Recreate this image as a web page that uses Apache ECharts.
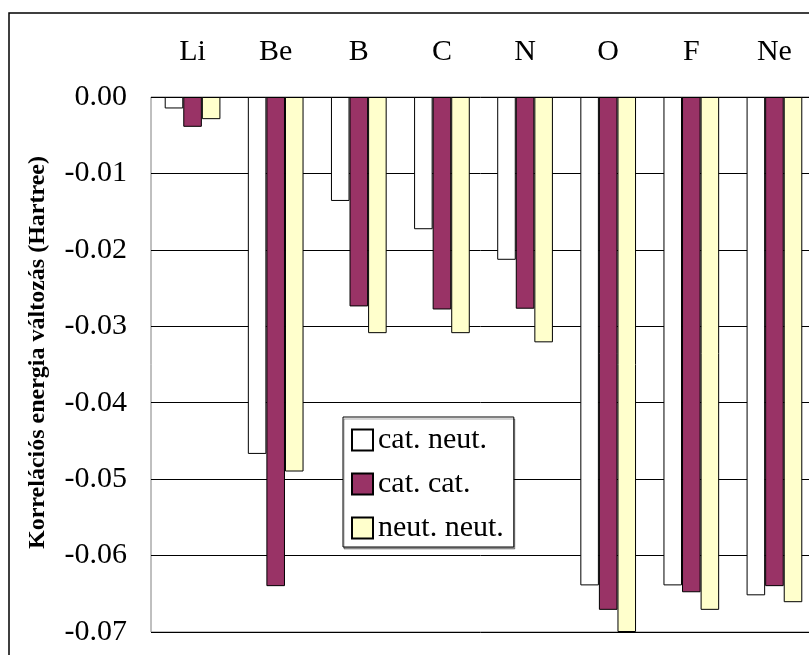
<!DOCTYPE html>
<html>
<head>
<meta charset="utf-8">
<script src="https://cdn.jsdelivr.net/npm/echarts@6/dist/echarts.min.js"></script>
<style>
  html, body { margin: 0; padding: 0; background: #fff; }
  #chart { width: 809px; height: 655px; }
</style>
</head>
<body>
<div id="chart"></div>
<script>
const categories = ['Li', 'Be', 'B', 'C', 'N', 'O', 'F', 'Ne'];
const seriesNames = ['cat. neut.', 'cat. cat.', 'neut. neut.'];
const catNeut  = [-0.0015, -0.0467, -0.0136, -0.0173, -0.0213, -0.0639, -0.0639, -0.0652];
const catCat   = [-0.0039, -0.0640, -0.0274, -0.0278, -0.0277, -0.0671, -0.0648, -0.0640];
const neutNeut = [-0.0029, -0.0490, -0.0309, -0.0309, -0.0321, -0.0700, -0.0671, -0.0661];
const yMin = -0.07, yMax = 0, yStep = 0.01;
const yTitle = 'Korrelációs energia változás (Hartree)';

const FONT = '"Liberation Serif", "Times New Roman", serif';
const colors = ['#FFFFFF', '#993366', '#FFFFCC'];
const values = [catNeut, catCat, neutNeut];

const chart = echarts.init(document.getElementById('chart'), null, { renderer: 'canvas' });
chart.setOption({
  animation: false,
  backgroundColor: '#fff',
  graphic: [{
    type: 'rect',
    shape: { x: 9, y: 13, width: 900, height: 760 },
    style: { fill: 'none', stroke: '#000', lineWidth: 1.5 },
    z: -10
  }],
  grid: {
    left: 151, top: 97, width: 665, height: 535,
    show: true, borderColor: '#808080', borderWidth: 1,
    containLabel: false, outerBoundsMode: 'none'
  },
  legend: {
    orient: 'vertical',
    left: 343, top: 417,
    itemWidth: 21, itemHeight: 21, itemGap: 14,
    padding: [8, 10, 4, 8],
    backgroundColor: '#fff',
    borderColor: '#000', borderWidth: 1,
    shadowColor: 'rgba(0,0,0,0.35)', shadowOffsetX: 1, shadowOffsetY: 2, shadowBlur: 0,
    textStyle: { fontFamily: FONT, fontSize: 30, color: '#000', lineHeight: 30 },
    data: seriesNames.map(n => ({ name: n, icon: 'rect' }))
  },
  xAxis: {
    type: 'category',
    position: 'top',
    data: categories,
    axisLine: { show: false },
    axisTick: { show: false },
    axisLabel: { fontFamily: FONT, fontSize: 30, color: '#000', margin: 30 },
    splitLine: { show: false }
  },
  yAxis: {
    type: 'value',
    min: yMin, max: yMax, interval: yStep,
    name: yTitle,
    nameLocation: 'middle',
    nameGap: 101,
    nameRotate: 90,
    nameTextStyle: { fontFamily: FONT, fontSize: 24, fontWeight: 'bold', color: '#000', padding: [0, 0, 0, 24] },
    axisLine: { show: false },
    axisTick: { show: false },
    axisLabel: {
      fontFamily: FONT, fontSize: 30, color: '#000', margin: 24,
      formatter: v => (Math.abs(v) < 1e-9 ? 0 : v).toFixed(2)
    },
    splitLine: { show: true, lineStyle: { color: '#000', width: 1 } }
  },
  series: seriesNames.map((name, i) => ({
    name: name,
    type: 'bar',
    data: values[i],
    barGap: '0%',
    barCategoryGap: '33%',
    itemStyle: { color: colors[i], borderColor: '#000', borderWidth: 1 }
  }))
});
</script>
</body>
</html>
